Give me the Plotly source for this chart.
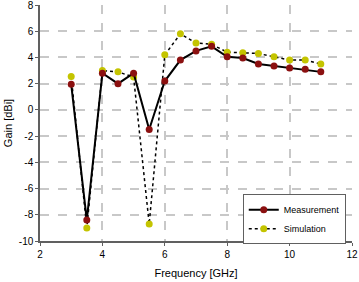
import plotly.graph_objects as go

freq = [3, 3.5, 4, 4.5, 5, 5.5, 6, 6.5, 7, 7.5, 8, 8.5, 9, 9.5, 10, 10.5, 11]
measurement = [1.95, -8.4, 2.8, 2.0, 2.8, -1.5, 2.2, 3.8, 4.5, 4.85, 4.05, 3.95, 3.5, 3.35, 3.2, 3.1, 2.9]
simulation = [2.55, -9.0, 3.0, 2.9, 2.5, -8.7, 4.2, 5.8, 5.1, 5.0, 4.4, 4.35, 4.3, 4.05, 3.8, 3.8, 3.5]
x_ticks = [2, 4, 6, 8, 10, 12]
y_ticks = [-10, -8, -6, -4, -2, 0, 2, 4, 6, 8]
y_labels = [str(v) for v in y_ticks]

fig = go.Figure()
fig.add_trace(go.Scatter(
    x=freq, y=simulation, name="Simulation", mode="lines+markers",
    line=dict(color="black", width=1.5, dash="dot"),
    marker=dict(color="#C4C400", size=7),
))
fig.add_trace(go.Scatter(
    x=freq, y=measurement, name="Measurement", mode="lines+markers",
    line=dict(color="black", width=2),
    marker=dict(color="#8B1010", size=7),
))

fig.update_layout(
    width=359, height=282,
    margin=dict(l=40, r=7, t=5, b=41, autoexpand=False),
    paper_bgcolor="white", plot_bgcolor="white",
    font=dict(family="Liberation Sans, Arial, sans-serif", size=10, color="black"),
    showlegend=True,
    legend=dict(
        x=0.98, y=0.198, xanchor="right", yanchor="top",
        bgcolor="white", bordercolor="#606060", borderwidth=1,
        traceorder="reversed", font=dict(size=9),
        itemwidth=30, tracegroupgap=0,
    ),
    xaxis=dict(
        range=[2, 12], tickvals=x_ticks, showgrid=True,
        gridcolor="#C8C8C8", griddash="dash", gridwidth=1.5,
        showline=True, linecolor="#606060", linewidth=1.5,
        ticks="outside", ticklen=3, tickcolor="#606060",
        zeroline=False, automargin=False, ticklabeloverflow="allow",
        title=dict(text="Frequency [GHz]", standoff=11, font=dict(size=11)),
    ),
    yaxis=dict(
        range=[-10, 8], tickvals=y_ticks, ticktext=y_labels, showgrid=True,
        gridcolor="#C8C8C8", griddash="dash", gridwidth=1.5,
        showline=True, linecolor="#606060", linewidth=1.5,
        ticks="outside", ticklen=3, tickcolor="#606060",
        zeroline=False, automargin=False, ticklabeloverflow="allow",
        title=dict(text="Gain [dBi]", standoff=4, font=dict(size=11)),
    ),
)

fig.write_html("out.html", config={"displayModeBar": False},
               post_script="document.body.style.margin='0px';")
